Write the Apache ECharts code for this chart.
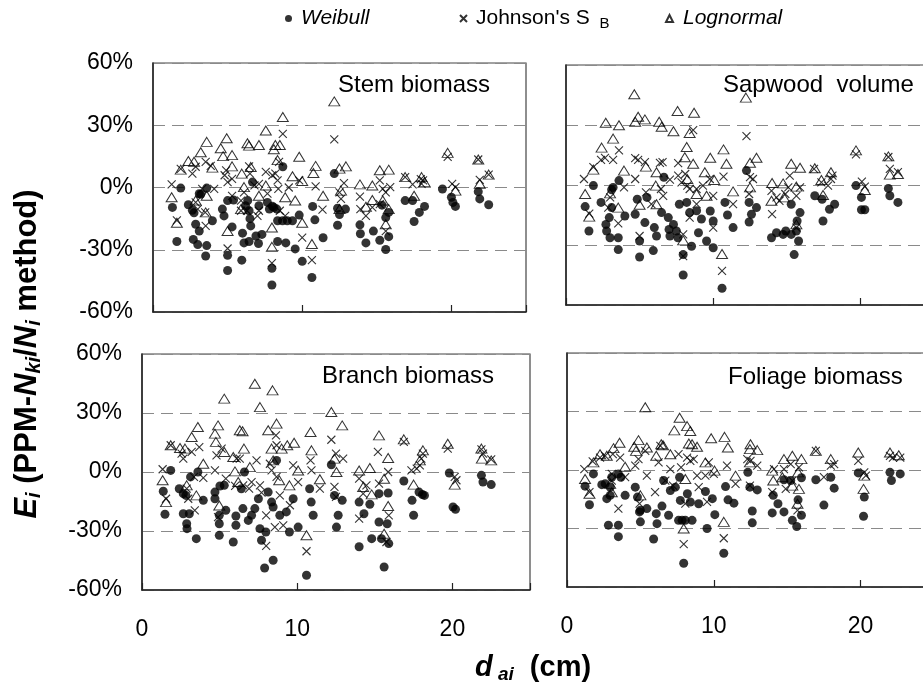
<!DOCTYPE html>
<html>
<head>
<meta charset="utf-8">
<title>Ei by dai</title>
<script src="https://cdn.jsdelivr.net/npm/echarts@6/dist/echarts.min.js"></script>
<style>
  html, body { margin: 0; padding: 0; background: #fff; }
  #chart { width: 923px; height: 693px; }
</style>
</head>
<body>
<div id="chart"></div>
<script>
// panels & axes
const panelNames = ['Stem biomass', 'Sapwood  volume', 'Branch biomass', 'Foliage biomass'];
const yTicks = [-60, -30, 0, 30, 60];
const xTicks = [0, 10, 20];
const seriesNames = ['Weibull', "Johnson's SB", 'Lognormal'];

// [d_ai (cm), Ei (%)]
const stemWeibull = [[1.86,-0.3],[1.3,-9.6],[1.6,-26],[2.37,-8.3],[2.64,-11],[2.86,-17.7],[2.7,-25],[3.0,-27.5],[3.1,-3],[3.2,-3.3],[3.6,-0.3],[2.75,-12.2],[3.1,-21],[3.6,-28],[3.53,-33],[3.98,-16],[4.65,-10.4],[4.76,-13.7],[5.0,-6.3],[5.0,-32.7],[5.0,-40],[5.3,-19],[5.4,-6],[5.95,-35],[6.0,-22],[6.1,-26.7],[6.2,-8.8],[6.35,-6.3],[6.44,-11.2],[6.55,-18.5],[6.44,-26],[6.67,2.6],[6.9,-23.4],[7.07,-27],[7.3,-22.6],[6.5,-15],[7.1,-8.8],[7.67,-7.2],[7.8,-10.4],[8.0,-9],[8.1,-9.6],[8.3,-10.4],[8.35,-16],[8.7,10],[7.97,-38.9],[7.97,-47],[8.35,-26],[8.68,-16],[8.9,-26.7],[9.0,-16],[9.35,-16],[9.53,-29.6],[9.8,-13.3],[10.0,-35.6],[10.7,-9.1],[10.85,-15.6],[10.65,-43.4],[11.4,-24.2],[12.15,6.7],[12.37,-10],[12.5,-13],[12.9,-10.4],[12.37,-18.2],[13.87,-18],[13.9,-22.3],[14.27,-26.7],[14.77,-21],[15.2,-25.4],[15.35,-8.5],[15.6,-14.5],[15.8,-12],[15.8,-23.7],[15.6,-29.9],[16.9,-6.3],[17.4,-6.3],[17.5,-16.4],[17.85,-12],[18.2,-9.1],[19.4,-0.7],[20.0,-4.7],[20.1,-7.2],[20.27,-9.1],[21.8,-2],[21.9,-5.5],[22.5,-8.3]];
const stemJohnson = [[1.25,1.5],[1.6,-15.8],[1.86,9],[2.64,6.7],[2.86,10],[3.53,12.4],[3.87,10.4],[2.86,-7.2],[3.0,-10.4],[3.5,-12],[3.53,-18.5],[3.3,-0.7],[4.1,-0.7],[4.8,5.9],[4.9,8.3],[5.3,4.2],[5.0,2.6],[5.3,-4],[5.9,-11.2],[5.9,-6.3],[6.1,-2.3],[6.3,-11.2],[6.44,10.2],[6.5,6.7],[6.8,1],[7.0,-13.7],[7.1,1.8],[7.56,7.5],[7.67,-3],[8.0,5.9],[8.2,6.7],[8.35,3.4],[8.4,-0.7],[8.7,25.8],[8.45,12.4],[8.86,-13.7],[8.5,-11.2],[7.97,-36.4],[5.0,-29.4],[7.1,-11.2],[9.1,0],[9.8,3.4],[10.0,-24.2],[10.65,-35],[10.9,0.5],[11.36,-10.7],[12.15,23.2],[12.5,-2.3],[12.6,-5.5],[12.8,2.1],[13.87,-4.4],[13.9,-10.4],[14.27,-13.7],[14.7,-9.6],[15.2,-8],[15.2,3.4],[15.4,-0.7],[15.6,-2.3],[15.9,0.2],[15.6,-21],[16.9,5],[17.4,1.5],[17.95,4],[18.1,3.4],[18.0,1.8],[19.75,14.8],[20.05,1.8],[20.27,0.2],[21.8,13.5],[21.9,3.7],[22.5,6.2]];
const stemLognormal = [[1.25,-4.7],[1.6,-17],[1.86,8.6],[2.37,12.8],[2.75,12.4],[3.2,17],[3.6,22],[3.98,9.6],[2.86,-6.3],[3.6,-4],[3.53,-12],[4.54,18.9],[4.7,15.1],[4.94,23.7],[5.3,15.6],[5.3,10.2],[5.0,-21],[5.95,6.7],[6.1,0.2],[5.9,-10.4],[6.33,21.3],[6.44,20.2],[6.55,9.9],[7.1,20.5],[7.56,27.5],[8.1,18.4],[8.2,20.5],[8.5,20.5],[8.7,34],[8.35,13.2],[7.1,-4],[7.56,1],[7.97,-28.6],[7.97,-19.3],[8.86,-4.7],[9.35,5.4],[9.53,-6.3],[9.8,14.8],[10.0,3.1],[10.0,-17],[10.65,-27.2],[10.75,7],[10.9,10.4],[11.4,-4],[12.15,41.5],[12.5,9.1],[12.93,10.2],[12.6,-1.5],[12.5,-10.4],[13.87,1.5],[14.27,-9.3],[14.7,1],[14.7,-6],[15.2,8.3],[15.8,8.6],[15.4,-6.3],[15.6,-17.7],[15.8,-10.4],[16.9,5],[17.5,-4],[18.0,5],[18.2,2.6],[19.75,16.7],[20.27,-1.5],[21.8,13.5],[21.9,1.8],[22.5,6.2]];

const sapWeibull = [[1.86,-0.3],[1.3,-10.8],[1.56,-23],[2.38,-8.7],[2.71,-19.7],[2.76,-23],[2.99,-26.4],[2.94,-16.3],[3.1,-2.4],[3.2,-1.2],[3.1,-11.3],[3.55,-32.3],[3.55,-26.4],[3.6,2.2],[4.0,-15.5],[4.7,-14.6],[4.84,-7.1],[5.0,-28],[5.0,-36],[5.36,-18.8],[5.5,-6.2],[5.93,-32.8],[6.0,-21.3],[6.15,-25.5],[6.49,-13.8],[6.65,3.9],[6.95,-16.3],[7.0,-22.2],[7.06,-25.5],[7.3,-19.7],[7.5,-23],[7.6,-26.4],[7.7,-9.6],[7.96,-34.8],[7.96,-45],[8.2,-8.7],[8.4,-13.8],[8.53,-30.6],[8.87,-12.9],[9.0,-23.9],[9.2,-17],[9.55,-28],[9.8,-13],[10.0,-31.4],[10.0,-18],[10.6,-51.6],[10.8,-8.7],[10.97,-15],[11.35,-21.3],[12.26,7.2],[12.44,-8.7],[12.6,-14.6],[12.94,-11.3],[12.44,-18.5],[13.96,-26.4],[14.3,-23.9],[14.75,-24.7],[14.93,-23],[15.3,-24.7],[15.5,-34.8],[15.65,-23],[15.8,-28],[15.9,-13.8],[15.7,-18],[15.3,-9.6],[16.9,-5.4],[17.4,-7.1],[17.46,-18],[17.9,-12.1],[18.25,-9.6],[19.7,-0.3],[20.07,-6.2],[20.07,-12.4],[20.3,-12.4],[21.9,-1.7],[22.0,-5.4],[22.55,-8.7]];
const sapJohnson = [[1.22,3],[1.58,-14.3],[1.86,8.9],[2.38,12.6],[2.65,13.6],[3.2,12.6],[3.6,17.3],[2.87,-11.3],[3.0,-6.2],[3.55,-19.2],[3.94,-1.2],[4.7,3],[4.7,13.4],[4.9,12.6],[5.36,11.4],[5.43,-3.7],[5.0,-25.5],[5.8,-9.6],[6.38,11.1],[6.56,11.4],[6.45,-2],[6.6,-5.4],[7.06,2.7],[7.62,10.9],[7.62,4.7],[7.85,1.3],[7.96,-24.7],[7.96,-35.6],[8.1,5.5],[8.24,-0.3],[8.4,-2],[8.64,27.4],[8.87,-2],[8.87,-9.6],[8.4,-16.3],[9.3,-0.3],[9.77,3],[10.0,-5.4],[10.0,-21.3],[10.6,-42.9],[10.7,4.2],[11.35,-9.6],[12.26,24.4],[12.5,3.9],[12.7,3],[12.44,-4.5],[13.96,-2.9],[14.0,-14.6],[14.3,-6.2],[14.5,-7.9],[14.9,-4.5],[15.1,-1.2],[15.2,4.7],[15.65,-5.4],[15.9,-1.2],[15.65,-21.3],[16.85,8.1],[17.35,1.3],[17.8,-0.3],[18.0,3],[18.1,4.7],[19.7,15.3],[20.1,1.7],[20.3,-0.8],[21.9,14],[22.0,8.1],[22.55,6.4]];
const sapLognormal = [[1.3,-4.5],[1.58,-15.8],[1.86,7.7],[2.42,18.7],[2.7,31.1],[3.2,23.2],[3.6,29.9],[2.99,-4.2],[3.55,-11.3],[3.94,7.2],[4.64,45.4],[4.7,31.6],[4.9,34.1],[5.36,32.8],[5.43,9.2],[5.0,-9.9],[6.33,31.6],[6.5,29.1],[6.15,6.4],[6.1,-0.3],[6.15,-9.6],[7.3,26.9],[7.58,37],[8.07,13.9],[8.4,26],[8.7,36.1],[8.2,19],[7.96,-27.7],[8.24,3],[8.64,10.6],[8.87,-4.5],[9.43,6.4],[9.55,-5.4],[9.8,13.6],[10.07,2.5],[10.6,-34.5],[10.7,17.8],[10.9,10.6],[11.35,-3.2],[12.22,43.7],[12.5,11.1],[12.94,13.6],[12.5,-1.2],[14.0,1],[14.75,0.8],[13.96,-7.9],[14.8,-6.2],[15.3,10.6],[15.9,8.6],[15.65,-0.8],[15.65,-19.7],[16.9,8.4],[17.46,-5],[17.35,2.5],[18.0,6.4],[19.7,17.3],[20.3,-2.5],[21.9,14.3],[22.0,5.2],[22.55,5.5]];

const branchWeibull = [[1.85,0.8],[1.37,-9.8],[1.48,-21.5],[2.4,-8.5],[2.66,-11],[2.83,-11.9],[2.66,-21.2],[3.05,-21.2],[2.88,-26.3],[2.9,-28.8],[3.5,-33.9],[3.13,-2.5],[3.6,0],[3.95,-14.4],[4.7,-10.2],[4.7,-13.6],[4.98,-22],[4.98,-26.3],[4.98,-32.2],[5.02,-7.1],[5.3,-6.8],[5.4,-19.5],[5.88,-35.6],[6.05,-22.4],[6.05,-27.1],[6.4,-8.5],[6.5,-18.6],[6.6,0],[6.85,-24.6],[7.06,-22],[7.27,-18.6],[7.5,-13.6],[7.6,-28.8],[7.7,-34.7],[7.9,-48.8],[8.45,-44.9],[7.98,-30.5],[8.13,-10.2],[8.35,-15.3],[8.45,-17.8],[8.67,5.9],[8.88,-22],[9.3,-20.3],[9.5,-30.5],[9.74,-13.6],[10.06,-28],[10.6,-52.5],[10.8,-8.5],[10.9,-15.3],[11.03,-22],[12.2,3.7],[12.4,-11.9],[12.53,-28],[12.64,-22],[12.9,-14.4],[13.99,-15.3],[13.99,-38],[14.3,-21.2],[14.68,-16.4],[14.8,-33.9],[15.27,-11],[15.27,-25.4],[15.43,-33.9],[15.6,-48.3],[15.8,-26.3],[15.9,-36.4],[15.86,-10.7],[16.87,-4.6],[17.4,-14.4],[17.5,-22],[17.85,-10.2],[18.07,-11.5],[18.2,-11.9],[19.8,-0.5],[20.04,-17.8],[20.2,-19],[21.87,-1.7],[21.97,-5.1],[22.5,-6.4]];
const branchJohnson = [[1.33,1.4],[1.85,13.6],[1.55,-13.6],[2.55,9.3],[2.66,6.8],[3.2,10.2],[3.69,12.7],[2.88,-8.5],[2.98,-13.6],[3.35,-2.5],[3.95,-3],[3.4,-19.5],[4.7,0.8],[4.8,8.5],[5.13,11.9],[4.9,-22.9],[5.4,-3.4],[6.0,-7.1],[6.1,6.8],[6.3,6.8],[6.52,-6.8],[6.9,-8.5],[7.06,-5.1],[7.38,5.9],[7.6,-6.8],[7.7,-10.5],[8.0,-22],[8.0,-37.6],[8.24,4.2],[8.35,0.8],[8.63,18.6],[8.67,13.6],[8.67,-2.5],[8.88,-11.9],[8.56,-28],[9.1,-27.1],[9.53,-16.9],[9.74,3.4],[10.06,-5.1],[10.6,-40.3],[10.86,5.9],[10.92,0.8],[11.46,-8.5],[12.2,16.4],[12.5,9.3],[12.96,6.8],[12.4,-7.6],[12.5,-12.7],[13.99,-3.4],[13.99,-23.7],[14.25,-11],[14.46,-6.8],[15.2,10.2],[15.27,-5.9],[15.86,0],[15.9,-22],[15.75,-35.6],[16.87,15.3],[17.36,0.8],[17.7,1.7],[17.9,3.4],[18.0,6.8],[18.1,9.3],[19.7,11.9],[20.15,-2.5],[20.26,-4.2],[21.87,11.5],[21.97,9.3],[22.5,6.4]];
const branchLognormal = [[1.33,-4.2],[1.85,13.6],[1.55,-15.3],[2.45,12.2],[2.77,11.9],[3.2,17.8],[3.6,22.9],[3.5,-11.9],[2.88,-6.8],[3.95,4.2],[4.76,15.3],[4.9,23.7],[4.7,19.5],[5.3,37.3],[5.3,10.2],[4.98,-17],[5.88,7.6],[5.99,0.3],[6.2,-5.1],[6.3,21.2],[6.48,20.7],[6.57,11.9],[6.95,2.5],[7.27,44.9],[7.6,33],[8.41,41.5],[8.13,21.2],[8.67,24.6],[8.35,11.9],[8.45,5.9],[9.0,11.9],[9.36,13.6],[9.8,14.9],[8.84,-4.2],[9.5,-6.8],[10.06,0.8],[10.6,-32.2],[10.86,20.3],[10.92,11],[11.46,-3.7],[12.2,30.5],[12.9,23.7],[12.4,6.8],[12.53,0],[13.99,0.8],[14.68,2],[14.25,-7.6],[14.8,-11.4],[15.27,18.6],[15.86,7.1],[15.6,-3.4],[15.86,-17.3],[15.6,-31.4],[16.87,16.6],[17.5,-6.4],[17.9,5.9],[18.1,11],[19.7,14.4],[20.15,-6.4],[21.87,11.9],[21.9,6.8],[22.5,5.9]];

const foliageWeibull = [[1.8,-2],[1.23,-8.3],[1.53,-17.8],[2.37,-7.5],[2.6,-7.1],[2.94,-8.8],[2.71,-14.7],[2.94,-13],[3.05,-3.7],[3.5,-2],[3.67,-3.7],[2.82,-28.3],[3.5,-28.3],[3.5,-34.2],[3.96,-13],[4.65,-8.8],[4.8,-13.9],[5.0,-20.7],[5.0,-26.6],[4.94,-21.5],[5.44,-19.8],[5.9,-35.4],[6.08,-22.4],[6.13,-27.5],[6.47,-18.5],[6.58,-5.4],[6.92,-23.2],[7.04,-10.5],[7.38,-8.8],[7.6,-25.8],[7.67,-3.7],[7.72,-15.6],[7.84,-25.8],[7.95,-47.8],[8.06,-25.8],[8.2,-12.2],[8.4,-16.4],[8.52,-25.8],[8.97,-17.3],[9.43,-11],[9.54,-30],[9.9,-14.7],[10.07,-22.9],[10.68,-42.7],[10.8,-8.5],[10.97,-15.3],[11.37,-17],[12.32,-1.2],[12.46,-8.8],[12.62,-21],[12.62,-27.1],[12.96,-10.2],[13.98,-22],[14.05,-13],[14.37,-17.3],[14.78,-5],[14.78,-21.5],[15.24,-5.4],[15.35,-25.8],[15.65,-29],[15.74,-15.3],[15.97,-4],[15.97,-23.2],[16.95,-5],[17.5,-18],[17.97,-3.7],[18.2,-9.3],[19.84,-1.5],[20.25,-13.9],[20.2,-23.7],[22.0,-1.2],[22.1,-5.4],[22.7,-2]];
const foliageJohnson = [[1.18,0.5],[1.53,-11.4],[1.75,4.4],[2.25,6.4],[2.6,7.3],[3.12,8.1],[3.62,6.4],[3.05,-2],[3.05,-5.4],[3.5,-19.8],[3.96,-3.7],[4.65,2.2],[4.87,5.6],[5.33,9.8],[5.44,-2.9],[4.94,-17.3],[6.0,-11.4],[6.36,12.4],[6.24,3.9],[6.7,-5.4],[7.04,0.5],[7.22,-8],[7.6,8.1],[7.77,1.4],[7.95,-38],[8.06,-17.3],[8.18,6.4],[8.4,4.7],[8.63,5.6],[8.86,-2.9],[8.97,-8.8],[9.43,-2.9],[9.54,-16.4],[9.66,3.9],[10.0,-2],[10.68,-35],[10.9,2.2],[11.48,-7.1],[12.28,5.6],[12.5,4.7],[12.96,2.2],[12.46,-8],[13.98,-11.4],[14.1,0.5],[14.78,0.5],[14.9,-9.7],[15.24,3],[15.35,-5.4],[15.7,-20.7],[15.8,1.4],[16.95,9.8],[17.5,-3.7],[17.97,2.2],[18.2,3],[19.84,4.7],[20.25,-1.2],[20.36,-2.9],[22.0,7.3],[22.2,6.4],[22.7,6.4]];
const foliageLognormal = [[1.23,-4.6],[1.53,-12.2],[1.8,3.9],[2.25,8.1],[2.71,7.3],[3.17,11.2],[3.58,14],[3.96,1.7],[3.05,-11.4],[2.94,-7.1],[4.58,11.9],[4.7,9.8],[4.87,15.3],[5.33,32.2],[5.44,11.5],[5.0,-13],[6.08,7.3],[6.42,13.2],[6.54,12.7],[7.04,8.1],[7.31,20.3],[7.67,26.8],[8.18,22.5],[8.4,20],[8.3,13.6],[8.52,13.2],[8.86,11.9],[7.95,-30],[8.06,-4.6],[9.43,3.9],[9.82,16.3],[10.05,-0.3],[10.68,-26.6],[10.73,17],[10.96,11.5],[11.48,-2.9],[12.5,13.2],[12.46,10.7],[12.96,10.2],[12.46,3.9],[13.98,-0.3],[14.78,5.6],[15.35,7.3],[15.97,5.6],[14.05,-5.4],[14.67,-3.7],[15.35,-8],[15.74,-1.2],[15.8,-9.7],[15.7,-17.3],[16.95,9.8],[17.97,5.6],[19.84,9],[20.25,-2.9],[20.2,-9.7],[22.0,9],[22.6,7.6]];

const panelData = [
  [stemWeibull, stemJohnson, stemLognormal],
  [sapWeibull, sapJohnson, sapLognormal],
  [branchWeibull, branchJohnson, branchLognormal],
  [foliageWeibull, foliageJohnson, foliageLognormal]
];

const FONT = '"Liberation Sans", Arial, sans-serif';

// pixel boxes of the four panels (the right ones run off the page like the scan)
const boxes = [
  { left: 153, top: 63, width: 373, height: 249 },
  { left: 566, top: 65, width: 368, height: 240 },
  { left: 142, top: 354, width: 388, height: 236 },
  { left: 567, top: 353, width: 367, height: 234 }
];

const crossPath = 'path://M0,0L10,10M10,0L0,10';
const symbolStyles = [
  { symbol: 'circle', symbolSize: 9, itemStyle: { color: '#000' } },
  { symbol: crossPath, symbolSize: 8, itemStyle: { color: 'rgba(0,0,0,0)', borderColor: '#000', borderWidth: 1.1 } },
  { symbol: 'triangle', symbolSize: [11, 9], itemStyle: { color: 'rgba(0,0,0,0)', borderColor: '#000', borderWidth: 1 } }
];

const grids = boxes.map(b => Object.assign({
  show: true, borderColor: '#444', borderWidth: 1.2, outerBoundsMode: 'none', containLabel: false
}, b));

const xAxes = boxes.map((b, i) => ({
  type: 'value', gridIndex: i, min: 0, max: 25, interval: 10,
  axisLine: { show: true, onZero: false, lineStyle: { color: '#222', width: 1.5 } },
  axisTick: { show: true, inside: true, length: 7, lineStyle: { color: '#222', width: 1.2 } },
  axisLabel: {
    show: i >= 2, margin: 28, color: '#000', fontSize: 23, fontFamily: FONT,
    formatter: v => xTicks.indexOf(v) >= 0 ? String(v) : ''
  },
  splitLine: { show: false }
}));

const yAxes = boxes.map((b, i) => ({
  type: 'value', gridIndex: i, min: yTicks[0], max: yTicks[yTicks.length - 1], interval: 30,
  axisLine: { show: true, onZero: false, lineStyle: { color: '#222', width: 1.5 } },
  axisTick: { show: false },
  axisLabel: { show: i % 2 === 0, margin: 20, color: '#000', fontSize: 23, fontFamily: FONT, formatter: '{value}%' },
  splitLine: { show: true, lineStyle: { color: '#8a8a8a', width: 1, type: [12, 7] } }
}));

const series = [];
panelData.forEach((sets, i) => {
  sets.forEach((data, k) => {
    series.push(Object.assign({
      type: 'scatter', name: seriesNames[k], xAxisIndex: i, yAxisIndex: i,
      data: data, silent: true, z: 2 + k
    }, symbolStyles[k]));
  });
});

function titleRich(size) {
  return {
    b: { fontSize: size, fontWeight: 'bold', fontFamily: FONT, lineHeight: size + 4 },
    bi: { fontSize: size, fontWeight: 'bold', fontStyle: 'italic', fontFamily: FONT, lineHeight: size + 4 },
    bis: { fontSize: Math.round(size * 0.66), fontWeight: 'bold', fontStyle: 'italic', fontFamily: FONT,
      lineHeight: Math.round(size * 0.66), verticalAlign: 'bottom' }
  };
}

const legendCommon = {
  orient: 'horizontal', top: 8, itemWidth: 7, itemHeight: 7, itemGap: 0,
  selectedMode: false, padding: 0
};
const legends = [
  Object.assign({}, legendCommon, {
    left: 285, data: [{ name: 'Weibull', icon: 'circle' }],
    textStyle: { fontSize: 21, fontStyle: 'italic', color: '#000', fontFamily: FONT, padding: [0, 0, 0, 4] }
  }),
  Object.assign({}, legendCommon, {
    left: 459, data: [{ name: "Johnson's SB", icon: crossPath }],
    formatter: () => "{t|Johnson's S }{s|B}",
    textStyle: {
      color: '#000', fontFamily: FONT, padding: [0, 0, 0, 4],
      rich: {
        t: { fontSize: 21, color: '#000', fontFamily: FONT, lineHeight: 26 },
        s: { fontSize: 15, color: '#000', fontFamily: FONT, lineHeight: 15, verticalAlign: 'bottom', padding: [0, 0, 0, 4] }
      }
    }
  }),
  Object.assign({}, legendCommon, {
    left: 665, data: [{ name: 'Lognormal', icon: 'triangle' }],
    textStyle: { fontSize: 21, fontStyle: 'italic', color: '#000', fontFamily: FONT, padding: [0, 0, 0, 5] }
  })
];

const titleSpots = [[338, 73], [723, 73], [322, 364], [728, 365]];
const graphics = panelNames.map((t, i) => ({
  type: 'text', x: titleSpots[i][0], y: titleSpots[i][1], silent: true,
  style: { text: t, fontSize: 24, fontFamily: FONT, fill: '#000' }
}));
graphics.push({
  type: 'text', x: 27, y: 354, rotation: Math.PI / 2, silent: true,
  style: {
    text: '{bi|E}{bis|i}{b| (PPM-}{bi|N}{bis|ki}{b|/}{bi|N}{bis|i}{b| method)}',
    rich: titleRich(31), align: 'center', verticalAlign: 'middle', fill: '#000'
  }
});
graphics.push({
  type: 'text', x: 533, y: 668, silent: true,
  style: {
    text: '{bi|d}{bis| ai}{b|  (cm)}',
    rich: titleRich(29), align: 'center', verticalAlign: 'middle', fill: '#000'
  }
});

const chart = echarts.init(document.getElementById('chart'), null, { renderer: 'canvas' });
chart.setOption({
  backgroundColor: '#fff',
  animation: false,
  legend: legends,
  grid: grids,
  xAxis: xAxes,
  yAxis: yAxes,
  series: series,
  graphic: graphics
});
</script>
</body>
</html>
